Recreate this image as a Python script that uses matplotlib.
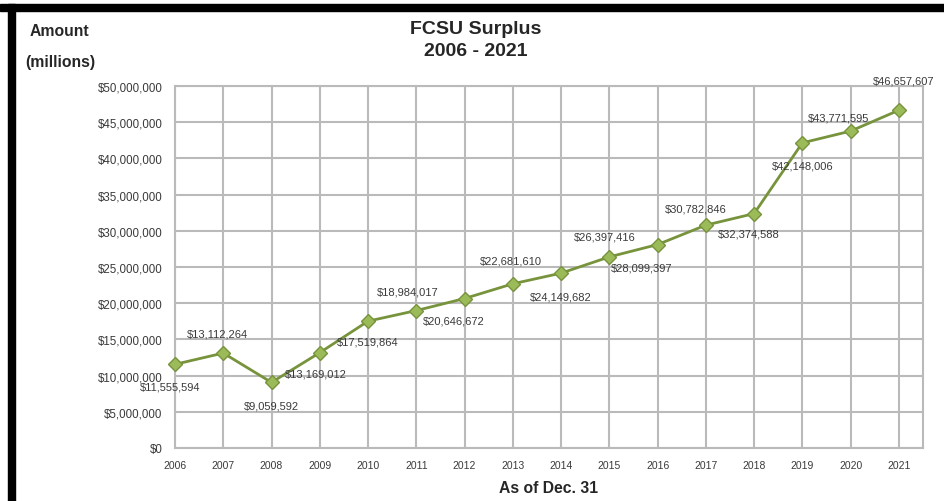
import matplotlib
matplotlib.use("Agg")
import matplotlib.pyplot as plt
from matplotlib.patches import Rectangle
from matplotlib.ticker import FuncFormatter

years = [2006, 2007, 2008, 2009, 2010, 2011, 2012, 2013,
         2014, 2015, 2016, 2017, 2018, 2019, 2020, 2021]
surplus = [11555594, 13112264, 9059592, 13169012, 17519864, 18984017,
           20646672, 22681610, 24149682, 26397416, 28099397, 30782846,
           32374588, 42148006, 43771595, 46657607]
y_ticks = [0, 5000000, 10000000, 15000000, 20000000, 25000000,
           30000000, 35000000, 40000000, 45000000, 50000000]

# where each data label sits relative to its point (pixels)
label_offsets = [(-5, -22), (-6, 20), (0, -23), (-4, -21), (0, -20), (-9, 19),
                 (-11, -22), (-2, 23), (0, -23), (-5, 20), (-16, -23), (-10, 17),
                 (-5, -20), (0, -23), (-12, 14), (5, 30)]

plt.rcParams['font.family'] = ['Liberation Sans', 'DejaVu Sans']

W, H = 944, 502
fig = plt.figure(figsize=(W / 100, H / 100), dpi=100)
fig.patch.set_facecolor('white')

ax = fig.add_axes([175 / W, (H - 449) / H, (923 - 175) / W, (449 - 87) / H])

grid_col = '#bababa'
txt_col = '#3a3a3a'
ax.plot(years, surplus, color='#77933c', lw=2, marker='D', markersize=7,
        markerfacecolor='#9bbb59', markeredgecolor='#77933c', zorder=3,
        clip_on=False)

for x, y, (dx, dy) in zip(years, surplus, label_offsets):
    ax.annotate("${:,.0f}".format(y), (x, y), xytext=(dx, dy),
                textcoords='offset pixels', ha='center', va='center',
                fontsize=8, color=txt_col, zorder=4)

ax.set_xlim(2006, 2021.5)
ax.set_ylim(0, 50000000)
ax.set_xticks(years)
ax.set_yticks(y_ticks)
ax.yaxis.set_major_formatter(FuncFormatter(lambda v, p: "${:,.0f}".format(v)))
ax.grid(True, color=grid_col, lw=1.5)
ax.set_axisbelow(True)
for s in ax.spines.values():
    s.set_color(grid_col)
    s.set_linewidth(1.5)
ax.tick_params(axis='both', length=0, labelcolor=txt_col)
ax.tick_params(axis='x', pad=9, labelsize=7.5)
ax.tick_params(axis='y', pad=9, labelsize=8.3)

fig.text(476 / W, 1 - 30 / H, "FCSU Surplus", ha='center', va='center',
         fontsize=14, fontweight='bold', color='#262626')
fig.text(476 / W, 1 - 51 / H, "2006 - 2021", ha='center', va='center',
         fontsize=14, fontweight='bold', color='#262626')
fig.text(30 / W, 1 - 32 / H, "Amount", ha='left', va='center',
         fontsize=11.3, fontweight='bold', color='#262626')
fig.text(25 / W, 1 - 62 / H, "(millions)", ha='left', va='center',
         fontsize=11.3, fontweight='bold', color='#262626')
fig.text(549 / W, 1 - 489 / H, "As of Dec. 31", ha='center', va='center',
         fontsize=11.3, fontweight='bold', color='#262626')

# black frame on top and left edges
fig.patches.append(Rectangle((0, 1 - 12 / H), 1, 7 / H, transform=fig.transFigure,
                             color='black', zorder=10))
fig.patches.append(Rectangle((8 / W, 0), 7 / W, 1 - 5 / H, transform=fig.transFigure,
                             color='black', zorder=10))

fig.savefig("out.png", dpi=100, facecolor='white')
